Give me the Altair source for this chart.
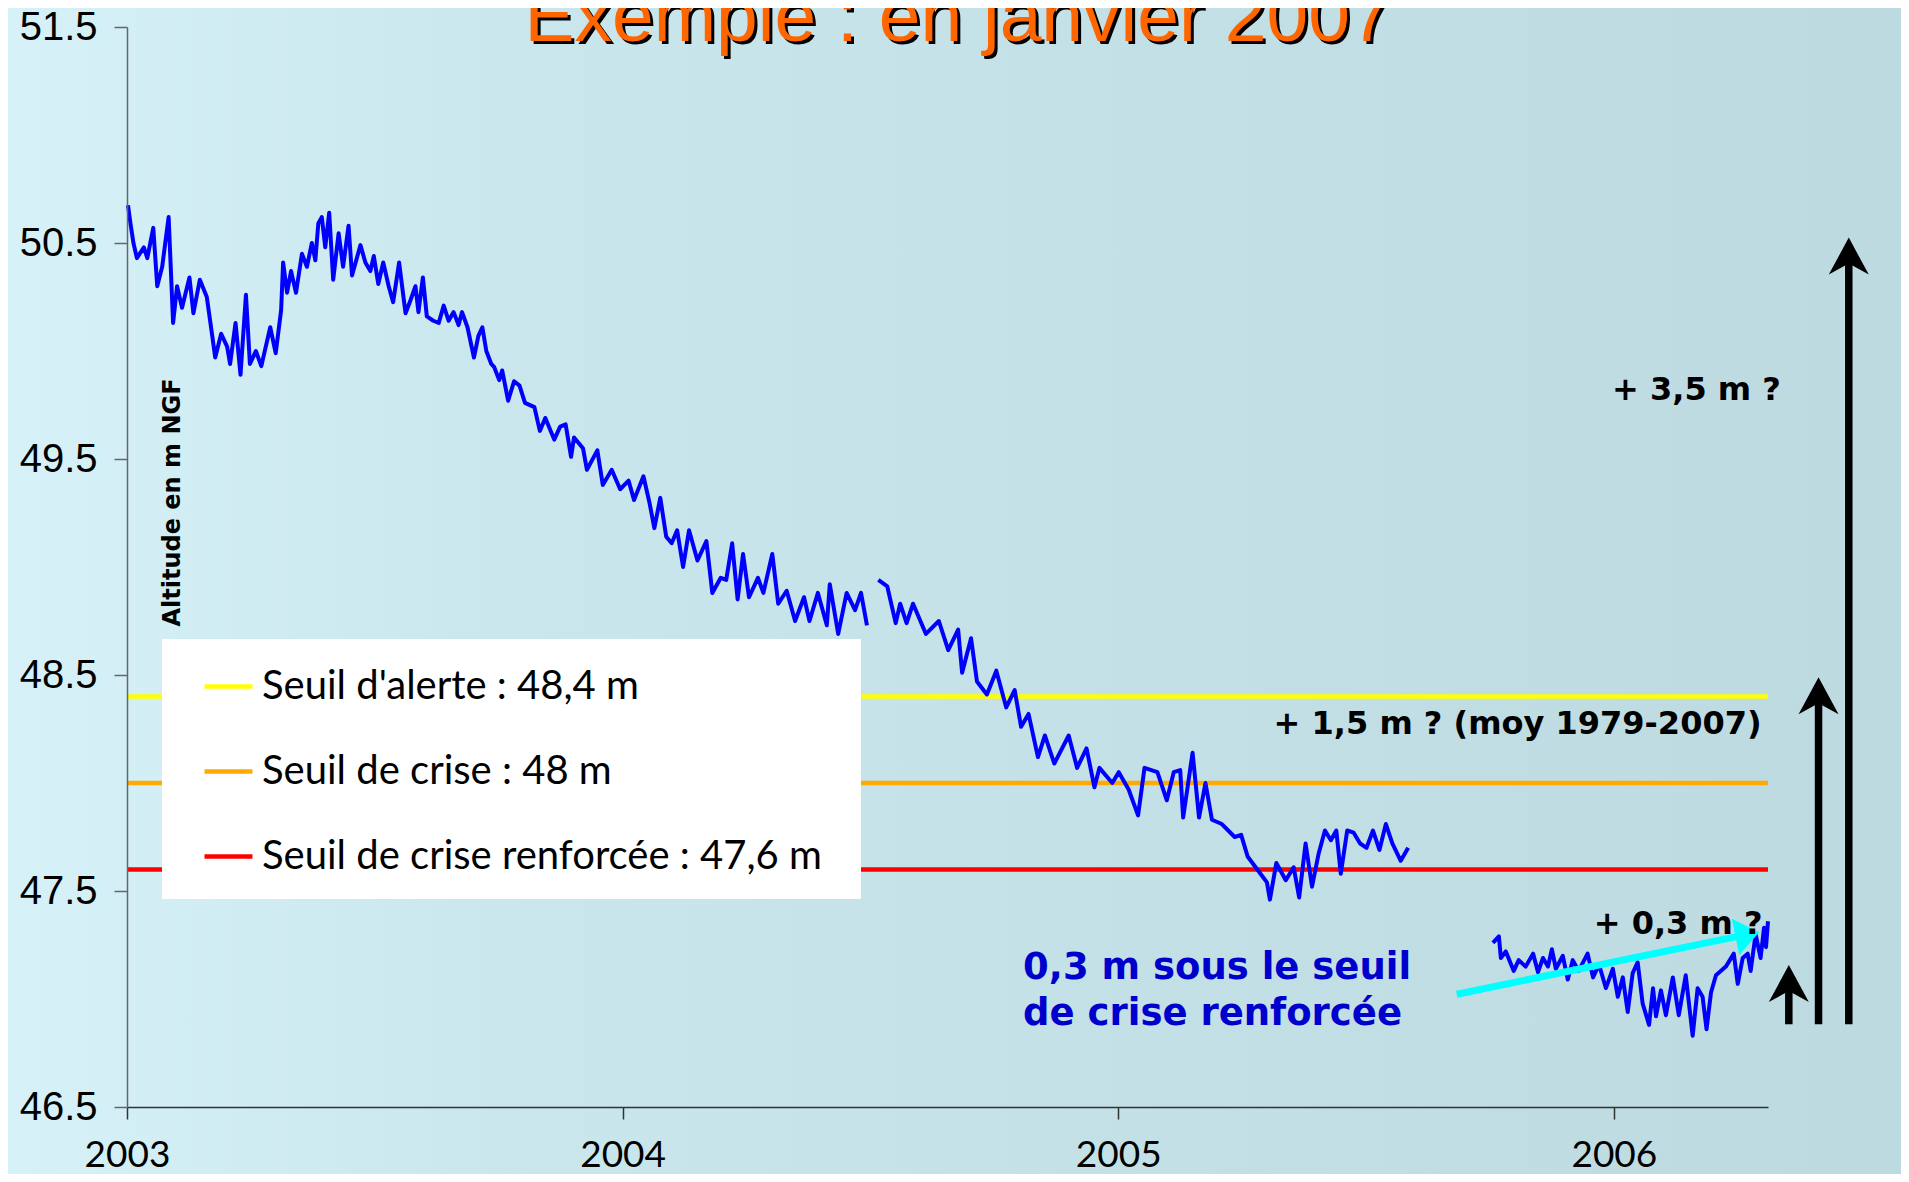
import altair as alt
import pandas as pd

# ---------------- data ----------------
TITLE = "Exemple : en janvier 2007"

S1_YEAR = [2003.002, 2003.007, 2003.013, 2003.020, 2003.034, 2003.041, 2003.053, 2003.061, 2003.071, 2003.084,
           2003.093, 2003.101, 2003.111, 2003.126, 2003.134, 2003.147, 2003.161, 2003.172, 2003.178, 2003.190,
           2003.202, 2003.208, 2003.219, 2003.229, 2003.240, 2003.248, 2003.260, 2003.271, 2003.289, 2003.300,
           2003.311, 2003.315, 2003.323, 2003.331, 2003.341, 2003.353, 2003.363, 2003.373, 2003.380, 2003.386,
           2003.393, 2003.400, 2003.408, 2003.416, 2003.427, 2003.436, 2003.447, 2003.454, 2003.471, 2003.481,
           2003.491, 2003.498, 2003.507, 2003.517, 2003.528, 2003.537, 2003.549, 2003.562, 2003.572, 2003.582,
           2003.588, 2003.597, 2003.605, 2003.618, 2003.629, 2003.639, 2003.649, 2003.659, 2003.669, 2003.676,
           2003.687, 2003.700, 2003.709, 2003.717, 2003.725, 2003.735, 2003.741, 2003.751, 2003.757, 2003.769,
           2003.781, 2003.792, 2003.803, 2003.822, 2003.833, 2003.844, 2003.862, 2003.874, 2003.885, 2003.896,
           2003.902, 2003.920, 2003.928, 2003.949, 2003.960, 2003.978, 2003.995, 2004.012, 2004.023, 2004.042,
           2004.054, 2004.064, 2004.076, 2004.088, 2004.099, 2004.110, 2004.122, 2004.134, 2004.151, 2004.169,
           2004.181, 2004.198, 2004.209, 2004.221, 2004.232, 2004.243, 2004.255, 2004.273, 2004.284, 2004.302,
           2004.314, 2004.331, 2004.348, 2004.366, 2004.377, 2004.394, 2004.412, 2004.418, 2004.435, 2004.452,
           2004.469, 2004.481, 2004.493]
S1_VALUE = [50.675, 50.59, 50.50, 50.43, 50.48, 50.43, 50.57, 50.30, 50.39, 50.62,
            50.13, 50.30, 50.20, 50.34, 50.175, 50.33, 50.25, 50.07, 49.97, 50.08,
            50.02, 49.94, 50.13, 49.89, 50.26, 49.94, 50.00, 49.93, 50.11, 49.99,
            50.19, 50.41, 50.27, 50.37, 50.27, 50.45, 50.39, 50.50, 50.42, 50.59,
            50.62, 50.48, 50.64, 50.33, 50.545, 50.39, 50.58, 50.35, 50.49, 50.41,
            50.37, 50.44, 50.31, 50.41, 50.30, 50.226, 50.41, 50.175, 50.235, 50.30,
            50.18, 50.34, 50.16, 50.14, 50.13, 50.21, 50.14, 50.18, 50.12, 50.18,
            50.11, 49.97, 50.07, 50.11, 50.00, 49.94, 49.925, 49.865, 49.91, 49.77,
            49.86, 49.84, 49.76, 49.74, 49.63, 49.69, 49.59, 49.65, 49.66, 49.51,
            49.60, 49.55, 49.45, 49.54, 49.38, 49.45, 49.36, 49.40, 49.31, 49.42,
            49.30, 49.18, 49.32, 49.14, 49.11, 49.17, 49.00, 49.17, 49.03, 49.12,
            48.88, 48.95, 48.94, 49.11, 48.85, 49.06, 48.86, 48.95, 48.88, 49.06,
            48.83, 48.89, 48.75, 48.86, 48.75, 48.88, 48.73, 48.92, 48.69, 48.88,
            48.80, 48.88, 48.73]

S1B_YEAR = [2004.516, 2004.534, 2004.551, 2004.560, 2004.573, 2004.586, 2004.612, 2004.638, 2004.657, 2004.677,
            2004.685, 2004.703, 2004.715, 2004.735, 2004.754, 2004.774, 2004.791, 2004.804, 2004.819, 2004.838,
            2004.852, 2004.871, 2004.900, 2004.917, 2004.936, 2004.952, 2004.962, 2004.988, 2005.001, 2005.021,
            2005.040, 2005.053, 2005.079, 2005.098, 2005.112, 2005.125, 2005.131, 2005.150, 2005.163, 2005.176,
            2005.189, 2005.209, 2005.235, 2005.248, 2005.261, 2005.287, 2005.300, 2005.306, 2005.319, 2005.338,
            2005.354, 2005.365, 2005.378, 2005.391, 2005.404, 2005.417, 2005.429, 2005.440, 2005.449, 2005.462,
            2005.475, 2005.488, 2005.501, 2005.514, 2005.527, 2005.540, 2005.553, 2005.570, 2005.585]
S1B_VALUE = [48.94, 48.91, 48.74, 48.83, 48.74, 48.83, 48.69, 48.75, 48.615, 48.71,
             48.51, 48.67, 48.47, 48.41, 48.52, 48.35, 48.43, 48.26, 48.32, 48.12,
             48.22, 48.09, 48.22, 48.07, 48.16, 47.98, 48.07, 48.00, 48.05, 47.97,
             47.85, 48.07, 48.05, 47.92, 48.05, 48.06, 47.84, 48.14, 47.84, 48.00,
             47.83, 47.81, 47.75, 47.76, 47.66, 47.58, 47.54, 47.46, 47.63, 47.55,
             47.61, 47.47, 47.72, 47.52, 47.67, 47.78, 47.735, 47.78, 47.58, 47.78,
             47.77, 47.72, 47.70, 47.78, 47.69, 47.81, 47.72, 47.64, 47.70]

S2_YEAR = [2005.756, 2005.768, 2005.772, 2005.782, 2005.798, 2005.808, 2005.822, 2005.837, 2005.847, 2005.857,
           2005.867, 2005.875, 2005.883, 2005.897, 2005.907, 2005.917, 2005.929, 2005.947, 2005.958, 2005.970,
           2005.984, 2005.998, 2006.008, 2006.018, 2006.028, 2006.038, 2006.048, 2006.058, 2006.071, 2006.079,
           2006.085, 2006.095, 2006.105, 2006.119, 2006.131, 2006.145, 2006.159, 2006.169, 2006.179, 2006.187,
           2006.196, 2006.206, 2006.226, 2006.242, 2006.250, 2006.260, 2006.270, 2006.276, 2006.286, 2006.296,
           2006.303, 2006.307, 2006.311]
S2_VALUE = [47.26, 47.29, 47.19, 47.22, 47.13, 47.18, 47.15, 47.21, 47.124, 47.19,
            47.15, 47.23, 47.14, 47.20, 47.09, 47.18, 47.13, 47.21, 47.10, 47.16,
            47.05, 47.14, 47.01, 47.10, 46.94, 47.12, 47.17, 46.98, 46.88, 47.05,
            46.92, 47.04, 46.925, 47.10, 46.925, 47.11, 46.83, 47.05, 47.01, 46.86,
            47.03, 47.11, 47.15, 47.21, 47.07, 47.19, 47.21, 47.13, 47.30, 47.19,
            47.33, 47.24, 47.36]

THRESH_LABELS = ["Seuil d'alerte : 48,4 m", "Seuil de crise : 48 m", "Seuil de crise renforcée : 47,6 m"]
THRESH_VALUES = [48.4, 48.0, 47.6]
THRESH_COLORS = ["#FFFF00", "#FFAA00", "#FF0000"]

Y_TICKS = [46.5, 47.5, 48.5, 49.5, 50.5, 51.5]
X_TICKS = [2003, 2004, 2005, 2006]
X_DOMAIN = [2003, 2006.311]
Y_DOMAIN = [46.5, 51.5]

# black "rise needed" arrows
ARROW_YEAR = [2006.353, 2006.413, 2006.474]
ARROW_BASE = [46.883, 46.883, 46.883]
ARROW_SHAFT_TOP = [47.04, 48.37, 50.41]
ARROW_TIP = [47.157, 48.49, 50.525]

# cyan arrow
CYAN_START = (2005.683, 47.022)
CYAN_SHAFT_END = (2006.250, 47.290)
CYAN_TIP = (2006.293, 47.309)

ANNOT_TEXT = ["+ 3,5 m ?", "+ 1,5 m ? (moy 1979-2007)", "+ 0,3 m ?"]
ANNOT_YEAR = [2006.337, 2006.298, 2006.300]
ANNOT_LEVEL = [49.818, 48.272, 47.346]

NOTE_TEXT = ["0,3 m sous le seuil", "de crise renforcée"]
NOTE_YEAR = [2004.808, 2004.808]
NOTE_LEVEL = [47.145, 46.93]

# ---------------- layout ----------------
W, H = 1641, 1080
PAD = {"left": 119, "top": 19, "right": 133, "bottom": 67}
TITLE_X, TITLE_Y = W / 2 + 10.5, 14.2
LEGEND_BOX = (35, 734, 612, 872)  # x, x2, y, y2 of the white legend panel

line_df = pd.DataFrame({
    "year": S1_YEAR + S1B_YEAR + S2_YEAR,
    "level": S1_VALUE + S1B_VALUE + S2_VALUE,
    "seg": ["a"] * len(S1_YEAR) + ["b"] * len(S1B_YEAR) + ["c"] * len(S2_YEAR),
})
thr_df = pd.DataFrame({"label": THRESH_LABELS, "level": THRESH_VALUES})
arrow_df = pd.DataFrame({"year": ARROW_YEAR, "level": ARROW_BASE, "top": ARROW_SHAFT_TOP, "tip": ARROW_TIP})
cyan_df = pd.DataFrame({"year": [CYAN_START[0]], "level": [CYAN_START[1]],
                        "year2": [CYAN_SHAFT_END[0]], "level2": [CYAN_SHAFT_END[1]],
                        "tipx": [CYAN_TIP[0]], "tipy": [CYAN_TIP[1]]})
annot_df = pd.DataFrame({"year": ANNOT_YEAR, "level": ANNOT_LEVEL, "text": ANNOT_TEXT})
note_df = pd.DataFrame({"year": NOTE_YEAR, "level": NOTE_LEVEL, "text": NOTE_TEXT})
one = pd.DataFrame({"k": [0]})

xs = alt.Scale(domain=X_DOMAIN, nice=False, zero=False)
ys = alt.Scale(domain=Y_DOMAIN, nice=False, zero=False)

x_axis = alt.Axis(values=X_TICKS, format="d", title=None, grid=False, zindex=1,
                  labelFont="Lato", labelFontSize=37, labelColor="black",
                  labelBaseline="alphabetic", labelPadding=47, labelFlush=False, labelOverlap=False,
                  tickSize=12, tickColor="#333333", tickWidth=1.5,
                  domainColor="#333333", domainWidth=1.5)
y_axis = alt.Axis(values=Y_TICKS, format=".1f", title="Altitude en m NGF", grid=False, zindex=1,
                  titleX=45.5, titleY=475, titleAngle=270, titleAlign="center", titleBaseline="middle",
                  titleFont="DejaVu Sans", titleFontSize=24, titleFontWeight="bold", titleColor="black",
                  labelFont="Liberation Sans", labelFontSize=40, labelColor="black", labelPadding=17,
                  tickSize=13, tickColor="#666666", tickWidth=1.5,
                  domainColor="#666666", domainWidth=1.5)

bg = alt.Chart(one).mark_rect(
    color=alt.Gradient(gradient="linear", x1=0, x2=1, y1=0, y2=0,
                       stops=[alt.GradientStop(offset=0, color="#D6F2F8"),
                              alt.GradientStop(offset=0.25, color="#CAE7ED"),
                              alt.GradientStop(offset=0.6, color="#C3E0E7"),
                              alt.GradientStop(offset=1, color="#BEDAE1")])
).encode(x=alt.value(-PAD["left"]), x2=alt.value(W + PAD["right"]),
         y=alt.value(-PAD["top"]), y2=alt.value(H + PAD["bottom"]))

rules = alt.Chart(thr_df).mark_rule(strokeWidth=4.5).encode(
    y=alt.Y("level:Q", scale=ys, axis=y_axis),
    color=alt.Color("label:N",
                    scale=alt.Scale(domain=THRESH_LABELS, range=THRESH_COLORS),
                    legend=alt.Legend(orient="none", legendX=75, legendY=633, title=None,
                                      direction="vertical",
                                      symbolType="stroke", symbolSize=2300, symbolStrokeWidth=4.5,
                                      symbolOffset=0, labelOffset=7,
                                      labelFont="Lato", labelFontSize=40, labelColor="black",
                                      labelLimit=1000, padding=0, rowPadding=38)),
)

legend_panel = alt.Chart(one).mark_rect(color="white").encode(
    x=alt.value(LEGEND_BOX[0]), x2=alt.value(LEGEND_BOX[1]),
    y=alt.value(LEGEND_BOX[2]), y2=alt.value(LEGEND_BOX[3]))

line = alt.Chart(line_df).mark_line(color="#0000FF", strokeWidth=4, strokeJoin="round").encode(
    x=alt.X("year:Q", scale=xs, axis=x_axis),
    y=alt.Y("level:Q", scale=ys),
    detail="seg:N",
)

cyan_line = alt.Chart(cyan_df).mark_rule(color="#00FFFF", strokeWidth=7).encode(
    x=alt.X("year:Q", scale=xs), y=alt.Y("level:Q", scale=ys), x2="year2:Q", y2="level2:Q")
cyan_head = alt.Chart(cyan_df).mark_point(
    shape="M0,0 L-1.2,-0.93 L-1.2,0.93 Z", size=1600, filled=True, opacity=1,
    color="#00FFFF", angle=348.4).encode(
    x=alt.X("tipx:Q", scale=xs), y=alt.Y("tipy:Q", scale=ys))

arrow_shaft = alt.Chart(arrow_df).mark_rule(color="black", strokeWidth=7.5).encode(
    x=alt.X("year:Q", scale=xs), y=alt.Y("level:Q", scale=ys), y2="top:Q")
arrow_head = alt.Chart(arrow_df).mark_point(
    shape="M0,0 L1,1.85 L0,1.3 L-1,1.85 Z", size=1600, filled=True, opacity=1,
    color="black").encode(x=alt.X("year:Q", scale=xs), y=alt.Y("tip:Q", scale=ys))

annots = alt.Chart(annot_df).mark_text(
    align="right", baseline="middle", font="DejaVu Sans", fontWeight="bold",
    fontSize=32, color="black").encode(
    x=alt.X("year:Q", scale=xs), y=alt.Y("level:Q", scale=ys), text="text:N")

note = alt.Chart(note_df).mark_text(
    align="left", baseline="middle", font="DejaVu Sans", fontWeight="bold",
    fontSize=37, color="#0000CC").encode(
    x=alt.X("year:Q", scale=xs), y=alt.Y("level:Q", scale=ys), text="text:N")

title_shadow = alt.Chart(one).mark_text(
    align="center", baseline="alphabetic", font="Liberation Sans", fontSize=75,
    color="black").encode(x=alt.value(TITLE_X + 3), y=alt.value(TITLE_Y + 3),
                          text=alt.value(TITLE))
title_main = alt.Chart(one).mark_text(
    align="center", baseline="alphabetic", font="Liberation Sans", fontSize=75,
    color="#FF6600").encode(x=alt.value(TITLE_X), y=alt.value(TITLE_Y),
                            text=alt.value(TITLE))

chart = alt.layer(
    bg, rules, legend_panel, line, cyan_line, cyan_head, arrow_shaft, arrow_head,
    annots, note, title_shadow, title_main
).properties(
    width=W, height=H,
    padding=PAD,
    autosize=alt.AutoSizeParams(type="none"),
    background="#C8E4EA",
).configure_view(stroke=None)

chart.save("out.html", embed_options={"renderer": "svg", "actions": False})
